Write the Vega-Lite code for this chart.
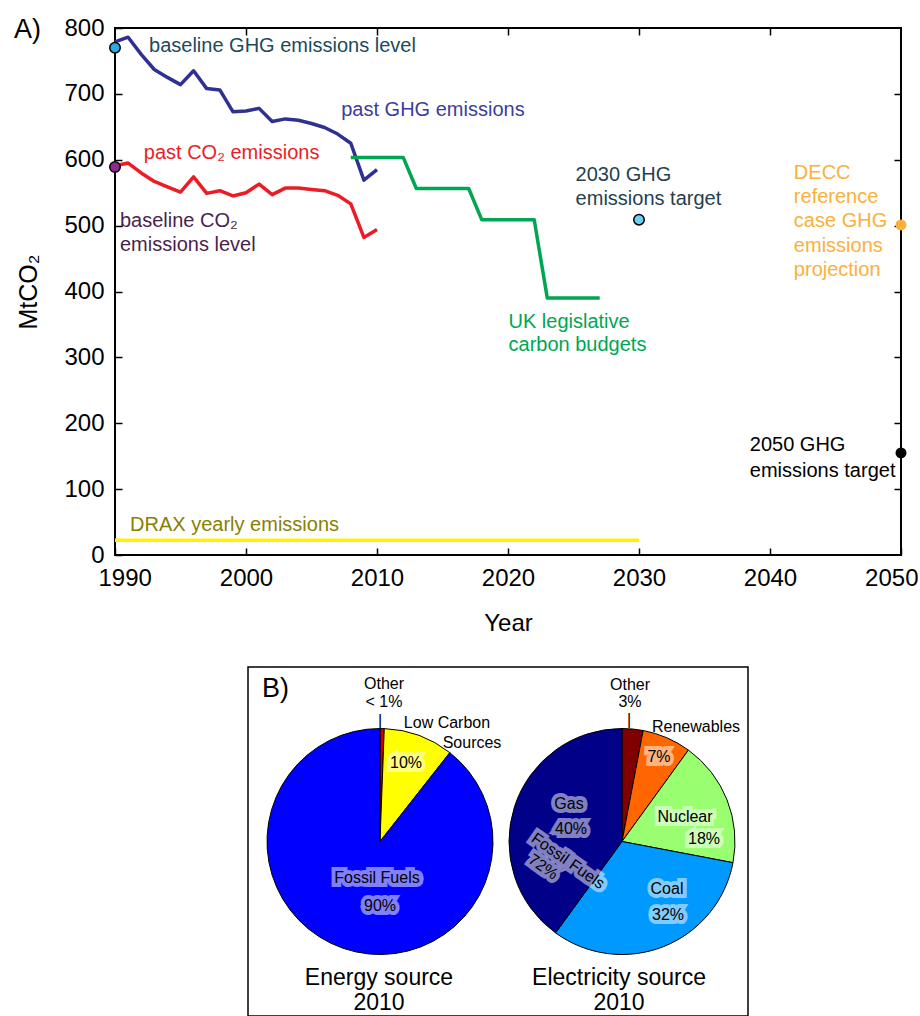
{
  "$schema": "https://vega.github.io/schema/vega-lite/v6.json",
  "padding": {"left": 13, "top": 15, "right": 0, "bottom": 0},
  "config": {"font": "Liberation Sans", "view": {"stroke": null}},
  "datasets": {
    "lines": [
      {"series": "past GHG emissions", "year": 1990, "value": 779},
      {"series": "past GHG emissions", "year": 1991, "value": 786},
      {"series": "past GHG emissions", "year": 1992, "value": 760},
      {"series": "past GHG emissions", "year": 1993, "value": 737},
      {"series": "past GHG emissions", "year": 1994, "value": 725},
      {"series": "past GHG emissions", "year": 1995, "value": 714},
      {"series": "past GHG emissions", "year": 1996, "value": 735},
      {"series": "past GHG emissions", "year": 1997, "value": 708},
      {"series": "past GHG emissions", "year": 1998, "value": 706},
      {"series": "past GHG emissions", "year": 1999, "value": 673},
      {"series": "past GHG emissions", "year": 2000, "value": 674},
      {"series": "past GHG emissions", "year": 2001, "value": 678},
      {"series": "past GHG emissions", "year": 2002, "value": 658},
      {"series": "past GHG emissions", "year": 2003, "value": 662},
      {"series": "past GHG emissions", "year": 2004, "value": 660},
      {"series": "past GHG emissions", "year": 2005, "value": 655},
      {"series": "past GHG emissions", "year": 2006, "value": 649},
      {"series": "past GHG emissions", "year": 2007, "value": 639},
      {"series": "past GHG emissions", "year": 2008, "value": 625},
      {"series": "past GHG emissions", "year": 2009, "value": 569},
      {"series": "past GHG emissions", "year": 2010, "value": 585},
      {"series": "past CO₂ emissions", "year": 1990, "value": 591},
      {"series": "past CO₂ emissions", "year": 1991, "value": 595},
      {"series": "past CO₂ emissions", "year": 1992, "value": 580},
      {"series": "past CO₂ emissions", "year": 1993, "value": 567},
      {"series": "past CO₂ emissions", "year": 1994, "value": 559},
      {"series": "past CO₂ emissions", "year": 1995, "value": 551},
      {"series": "past CO₂ emissions", "year": 1996, "value": 574},
      {"series": "past CO₂ emissions", "year": 1997, "value": 549},
      {"series": "past CO₂ emissions", "year": 1998, "value": 553},
      {"series": "past CO₂ emissions", "year": 1999, "value": 545},
      {"series": "past CO₂ emissions", "year": 2000, "value": 550},
      {"series": "past CO₂ emissions", "year": 2001, "value": 563},
      {"series": "past CO₂ emissions", "year": 2002, "value": 547},
      {"series": "past CO₂ emissions", "year": 2003, "value": 557},
      {"series": "past CO₂ emissions", "year": 2004, "value": 557},
      {"series": "past CO₂ emissions", "year": 2005, "value": 555},
      {"series": "past CO₂ emissions", "year": 2006, "value": 553},
      {"series": "past CO₂ emissions", "year": 2007, "value": 546},
      {"series": "past CO₂ emissions", "year": 2008, "value": 533},
      {"series": "past CO₂ emissions", "year": 2009, "value": 482},
      {"series": "past CO₂ emissions", "year": 2010, "value": 494},
      {"series": "UK legislative carbon budgets", "year": 2008, "value": 603.6},
      {"series": "UK legislative carbon budgets", "year": 2012, "value": 603.6},
      {"series": "UK legislative carbon budgets", "year": 2013, "value": 556.4},
      {"series": "UK legislative carbon budgets", "year": 2017, "value": 556.4},
      {"series": "UK legislative carbon budgets", "year": 2018, "value": 508.8},
      {"series": "UK legislative carbon budgets", "year": 2022, "value": 508.8},
      {"series": "UK legislative carbon budgets", "year": 2023, "value": 390},
      {"series": "UK legislative carbon budgets", "year": 2027, "value": 390},
      {"series": "DRAX yearly emissions", "year": 1990, "value": 22.5},
      {"series": "DRAX yearly emissions", "year": 2030, "value": 22.5}
    ],
    "dots": [
      {"series": "baseline GHG emissions level", "year": 1990, "value": 770},
      {"series": "baseline CO₂ emissions level", "year": 1990, "value": 589},
      {"series": "2030 GHG emissions target", "year": 2030, "value": 509},
      {"series": "DECC reference case GHG emissions projection", "year": 2050, "value": 501},
      {"series": "2050 GHG emissions target", "year": 2050, "value": 155}
    ],
    "notes": [
      {"series": "baseline GHG emissions level", "text": "baseline GHG emissions level", "year": 1992.6, "value": 773},
      {"series": "past GHG emissions", "text": "past GHG emissions", "year": 2007.27, "value": 676},
      {"series": "past CO₂ emissions", "text": "past CO₂ emissions", "year": 1992.2, "value": 610},
      {"series": "baseline CO₂ emissions level", "text": "baseline CO₂", "year": 1990.38, "value": 507},
      {"series": "baseline CO₂ emissions level", "text": "emissions level", "year": 1990.38, "value": 471},
      {"series": "2030 GHG emissions target", "text": "2030 GHG", "year": 2025.16, "value": 577},
      {"series": "2030 GHG emissions target", "text": "emissions target", "year": 2025.16, "value": 541},
      {"series": "DECC reference case GHG emissions projection", "text": "DECC", "year": 2041.82, "value": 580},
      {"series": "DECC reference case GHG emissions projection", "text": "reference", "year": 2041.82, "value": 544},
      {"series": "DECC reference case GHG emissions projection", "text": "case GHG", "year": 2041.82, "value": 507},
      {"series": "DECC reference case GHG emissions projection", "text": "emissions", "year": 2041.82, "value": 469},
      {"series": "DECC reference case GHG emissions projection", "text": "projection", "year": 2041.82, "value": 433},
      {"series": "2050 GHG emissions target", "text": "2050 GHG", "year": 2038.46, "value": 167},
      {"series": "2050 GHG emissions target", "text": "emissions target", "year": 2038.46, "value": 127},
      {"series": "UK legislative carbon budgets", "text": "UK legislative", "year": 2020.04, "value": 354},
      {"series": "UK legislative carbon budgets", "text": "carbon budgets", "year": 2020.04, "value": 319},
      {"series": "DRAX yearly emissions", "text": "DRAX yearly emissions", "year": 1991.15, "value": 45}
    ],
    "pies": [
      {"chart": "Energy", "source": "Other", "ord": 1, "pct": 0.6},
      {"chart": "Energy", "source": "Low Carbon Sources", "ord": 2, "pct": 10},
      {"chart": "Energy", "source": "Fossil Fuels", "ord": 3, "pct": 89.4},
      {"chart": "Electricity", "source": "Other", "ord": 1, "pct": 3},
      {"chart": "Electricity", "source": "Renewables", "ord": 2, "pct": 7},
      {"chart": "Electricity", "source": "Nuclear", "ord": 3, "pct": 18},
      {"chart": "Electricity", "source": "Coal", "ord": 4, "pct": 32},
      {"chart": "Electricity", "source": "Gas", "ord": 5, "pct": 40}
    ]
  },
  "spacing": 30,
  "vconcat": [
    {
      "width": 786,
      "height": 527,
      "view": {"stroke": "#000000", "strokeWidth": 2},
      "resolve": {"scale": {"color": "independent"}, "axis": {"x": "independent", "y": "independent"}},
      "layer": [
        {
          "data": {"name": "lines"},
          "mark": {"type": "line", "strokeWidth": 3.5, "strokeJoin": "round"},
          "encoding": {
            "x": {"field": "year", "type": "quantitative", "scale": {"domain": [1990, 2050], "nice": false, "zero": false},
              "axis": {"orient": "bottom", "values": [1990, 2000, 2010, 2020, 2030, 2040, 2050], "format": "d", "domain": false, "grid": false,
                "tickSize": -7, "tickWidth": 1.5, "tickColor": "#000000", "labelFontSize": 24, "labelColor": "#000000", "labelPadding": 18,
                "labelFlush": true, "labelFlushOffset": 17, "labelOverlap": false, "title": "Year", "titleFontSize": 24, "titleFontWeight": "normal", "titleColor": "#000000", "titlePadding": 21}},
            "y": {"field": "value", "type": "quantitative", "scale": {"domain": [0, 800], "nice": false},
              "axis": {"orient": "left", "values": [0, 100, 200, 300, 400, 500, 600, 700, 800], "domain": false, "grid": false,
                "tickSize": -7, "tickWidth": 1.5, "tickColor": "#000000", "labelFontSize": 24, "labelColor": "#000000", "labelPadding": 18,
                "labelFlush": false, "labelOverlap": false, "title": "MtCO₂", "titleFontSize": 25, "titleFontWeight": "normal", "titleColor": "#000000", "titlePadding": 22}},
            "color": {"field": "series", "type": "nominal", "legend": null,
              "scale": {"domain": ["past GHG emissions", "past CO₂ emissions", "UK legislative carbon budgets", "DRAX yearly emissions"],
                "range": ["#2E3192", "#ED1C24", "#00A651", "#FFF200"]}}
          }
        },
        {
          "data": {"name": "dots"},
          "transform": [{"filter": "datum.year < 2040"}],
          "mark": {"type": "point", "filled": true, "size": 110, "stroke": "#000000", "strokeWidth": 1.5, "opacity": 1},
          "encoding": {
            "x": {"field": "year", "type": "quantitative",
              "axis": {"orient": "top", "values": [2000, 2010, 2020, 2030, 2040], "labels": false, "domain": false, "grid": false,
                "tickSize": -7, "tickWidth": 1.5, "tickColor": "#000000", "title": null}},
            "y": {"field": "value", "type": "quantitative",
              "axis": {"orient": "right", "values": [100, 200, 300, 400, 500, 600, 700], "labels": false, "domain": false, "grid": false,
                "tickSize": -7, "tickWidth": 1.5, "tickColor": "#000000", "title": null}},
            "fill": {"field": "series", "type": "nominal", "legend": null,
              "scale": {"domain": ["baseline GHG emissions level", "baseline CO₂ emissions level", "2030 GHG emissions target"],
                "range": ["#29ABE2", "#92278F", "#6DCFF6"]}}
          }
        },
        {
          "data": {"name": "dots"},
          "transform": [{"filter": "datum.year > 2040"}],
          "mark": {"type": "point", "filled": true, "size": 120, "opacity": 1},
          "encoding": {
            "x": {"field": "year", "type": "quantitative", "axis": null},
            "y": {"field": "value", "type": "quantitative", "axis": null},
            "color": {"field": "series", "type": "nominal", "legend": null,
              "scale": {"domain": ["DECC reference case GHG emissions projection", "2050 GHG emissions target"],
                "range": ["#FBB03B", "#000000"]}}
          }
        },
        {
          "data": {"name": "notes"},
          "mark": {"type": "text", "align": "left", "baseline": "middle", "fontSize": 20},
          "encoding": {
            "x": {"field": "year", "type": "quantitative", "axis": null},
            "y": {"field": "value", "type": "quantitative", "axis": null},
            "text": {"field": "text"},
            "color": {"field": "series", "type": "nominal", "legend": null,
              "scale": {"domain": ["past GHG emissions", "past CO₂ emissions", "UK legislative carbon budgets", "DRAX yearly emissions",
                "baseline GHG emissions level", "baseline CO₂ emissions level", "2030 GHG emissions target",
                "DECC reference case GHG emissions projection", "2050 GHG emissions target"],
                "range": ["#3C3C9E", "#ED1C24", "#00A651", "#8A8000", "#1B4B5C", "#4B1F4B", "#253F4F", "#FBB03B", "#000000"]}}
          }
        },
        {
          "data": {"values": [{}]},
          "mark": {"type": "text", "align": "left", "baseline": "middle", "fontSize": 27, "dx": -101, "dy": 2, "color": "#000000"},
          "encoding": {
            "x": {"datum": 1990, "type": "quantitative", "axis": null},
            "y": {"datum": 800, "type": "quantitative", "axis": null},
            "text": {"value": "A)"}
          }
        }
      ]
    },
    {
      "spacing": 0,
      "hconcat": [
        {
          "width": 132,
          "height": 10,
          "data": {"values": [{}]},
          "mark": {"type": "point", "opacity": 0},
          "encoding": {}
        },
        {
          "width": 500,
          "height": 349,
          "view": {"stroke": "#000000", "strokeWidth": 1.5},
          "encoding": {
            "x": {"field": "chart", "type": "nominal", "axis": null,
              "scale": {"type": "point", "domain": ["Energy", "Electricity"], "range": [132, 374], "padding": 0}}
          },
          "layer": [
            {
              "data": {"name": "pies"},
              "transform": [
                {"stack": "pct", "groupby": ["chart"], "sort": [{"field": "ord", "order": "ascending"}], "as": ["p0", "p1"]},
                {"calculate": "datum.chart + ' ' + datum.source", "as": "key"}
              ],
              "mark": {"type": "arc", "outerRadius": 113, "stroke": "#000000", "strokeWidth": 1},
              "encoding": {
                "theta": {"field": "p0", "type": "quantitative", "scale": {"domain": [0, 100], "zero": true}},
                "theta2": {"field": "p1"},
                "color": {"field": "key", "type": "nominal", "legend": null,
                  "scale": {"domain": ["Energy Other", "Energy Low Carbon Sources", "Energy Fossil Fuels",
                    "Electricity Other", "Electricity Renewables", "Electricity Nuclear", "Electricity Coal", "Electricity Gas"],
                    "range": ["#CC0000", "#FFFF00", "#0000FF", "#800000", "#FF6600", "#99FF70", "#0099FF", "#000088"]}}
              }
            },
            {
              "data": {"values": [{}]},
              "layer": [
                {"mark": {"type": "text", "fontSize": 16, "dx": 26, "dy": -79, "fill": "#ffffff", "stroke": "#ffffff", "strokeWidth": 8, "opacity": 0.5}, "encoding": {"x": {"datum": "Energy"}, "text": {"value": "10%"}}},
                {"mark": {"type": "text", "fontSize": 16, "dx": -3, "dy": 36, "fill": "#ffffff", "stroke": "#ffffff", "strokeWidth": 8, "opacity": 0.5}, "encoding": {"x": {"datum": "Energy"}, "text": {"value": "Fossil Fuels"}}},
                {"mark": {"type": "text", "fontSize": 16, "dx": 0, "dy": 64, "fill": "#ffffff", "stroke": "#ffffff", "strokeWidth": 8, "opacity": 0.5}, "encoding": {"x": {"datum": "Energy"}, "text": {"value": "90%"}}},
                {"mark": {"type": "text", "fontSize": 16, "dx": 37, "dy": -85, "fill": "#ffffff", "stroke": "#ffffff", "strokeWidth": 8, "opacity": 0.5}, "encoding": {"x": {"datum": "Electricity"}, "text": {"value": "7%"}}},
                {"mark": {"type": "text", "fontSize": 16, "dx": -53, "dy": -38, "fill": "#ffffff", "stroke": "#ffffff", "strokeWidth": 8, "opacity": 0.5}, "encoding": {"x": {"datum": "Electricity"}, "text": {"value": "Gas"}}},
                {"mark": {"type": "text", "fontSize": 16, "dx": -51, "dy": -13, "fill": "#ffffff", "stroke": "#ffffff", "strokeWidth": 8, "opacity": 0.5}, "encoding": {"x": {"datum": "Electricity"}, "text": {"value": "40%"}}},
                {"mark": {"type": "text", "fontSize": 16, "dx": 63, "dy": -25, "fill": "#ffffff", "stroke": "#ffffff", "strokeWidth": 8, "opacity": 0.5}, "encoding": {"x": {"datum": "Electricity"}, "text": {"value": "Nuclear"}}},
                {"mark": {"type": "text", "fontSize": 16, "dx": 82, "dy": -3, "fill": "#ffffff", "stroke": "#ffffff", "strokeWidth": 8, "opacity": 0.5}, "encoding": {"x": {"datum": "Electricity"}, "text": {"value": "18%"}}},
                {"mark": {"type": "text", "fontSize": 16, "dx": 45, "dy": 47, "fill": "#ffffff", "stroke": "#ffffff", "strokeWidth": 8, "opacity": 0.5}, "encoding": {"x": {"datum": "Electricity"}, "text": {"value": "Coal"}}},
                {"mark": {"type": "text", "fontSize": 16, "dx": 46, "dy": 73, "fill": "#ffffff", "stroke": "#ffffff", "strokeWidth": 8, "opacity": 0.5}, "encoding": {"x": {"datum": "Electricity"}, "text": {"value": "32%"}}},
                {"mark": {"type": "text", "fontSize": 16, "dx": -33, "dy": 47, "angle": 35, "fill": "#ffffff", "stroke": "#ffffff", "strokeWidth": 8, "opacity": 0.5}, "encoding": {"x": {"datum": "Electricity"}, "text": {"value": "Fossil Fuels"}}},
                {"mark": {"type": "text", "fontSize": 16, "dx": -50, "dy": 66, "angle": 35, "fill": "#ffffff", "stroke": "#ffffff", "strokeWidth": 8, "opacity": 0.5}, "encoding": {"x": {"datum": "Electricity"}, "text": {"value": "72%"}}},
                {"mark": {"type": "text", "fontSize": 27, "align": "left", "dx": -118, "dy": -153, "color": "#000000"}, "encoding": {"x": {"datum": "Energy"}, "text": {"value": "B)"}}},
                {"mark": {"type": "text", "fontSize": 16, "dx": 4, "dy": -158, "color": "#000000"}, "encoding": {"x": {"datum": "Energy"}, "text": {"value": "Other"}}},
                {"mark": {"type": "text", "fontSize": 16, "dx": 4, "dy": -140, "color": "#000000"}, "encoding": {"x": {"datum": "Energy"}, "text": {"value": "< 1%"}}},
                {"mark": {"type": "text", "fontSize": 16, "dx": 0, "dy": -121, "color": "#000000", "fontWeight": 300}, "encoding": {"x": {"datum": "Energy"}, "text": {"value": "|"}}},
                {"mark": {"type": "text", "fontSize": 16, "dx": 67, "dy": -119, "color": "#000000"}, "encoding": {"x": {"datum": "Energy"}, "text": {"value": "Low Carbon"}}},
                {"mark": {"type": "text", "fontSize": 16, "dx": 92, "dy": -99, "color": "#000000"}, "encoding": {"x": {"datum": "Energy"}, "text": {"value": "Sources"}}},
                {"mark": {"type": "text", "fontSize": 16, "dx": 26, "dy": -79, "color": "#000000"}, "encoding": {"x": {"datum": "Energy"}, "text": {"value": "10%"}}},
                {"mark": {"type": "text", "fontSize": 16, "dx": -3, "dy": 36, "color": "#000000"}, "encoding": {"x": {"datum": "Energy"}, "text": {"value": "Fossil Fuels"}}},
                {"mark": {"type": "text", "fontSize": 16, "dx": 0, "dy": 64, "color": "#000000"}, "encoding": {"x": {"datum": "Energy"}, "text": {"value": "90%"}}},
                {"mark": {"type": "text", "fontSize": 23, "dx": -1, "dy": 136, "color": "#000000"}, "encoding": {"x": {"datum": "Energy"}, "text": {"value": "Energy source"}}},
                {"mark": {"type": "text", "fontSize": 23, "dx": -1, "dy": 161, "color": "#000000"}, "encoding": {"x": {"datum": "Energy"}, "text": {"value": "2010"}}},
                {"mark": {"type": "text", "fontSize": 16, "dx": 8, "dy": -157, "color": "#000000"}, "encoding": {"x": {"datum": "Electricity"}, "text": {"value": "Other"}}},
                {"mark": {"type": "text", "fontSize": 16, "dx": 8, "dy": -140, "color": "#000000"}, "encoding": {"x": {"datum": "Electricity"}, "text": {"value": "3%"}}},
                {"mark": {"type": "text", "fontSize": 16, "dx": 7, "dy": -122, "color": "#000000", "fontWeight": 300}, "encoding": {"x": {"datum": "Electricity"}, "text": {"value": "|"}}},
                {"mark": {"type": "text", "fontSize": 16, "dx": 74, "dy": -115, "color": "#000000"}, "encoding": {"x": {"datum": "Electricity"}, "text": {"value": "Renewables"}}},
                {"mark": {"type": "text", "fontSize": 16, "dx": 37, "dy": -85, "color": "#000000"}, "encoding": {"x": {"datum": "Electricity"}, "text": {"value": "7%"}}},
                {"mark": {"type": "text", "fontSize": 16, "dx": -53, "dy": -38, "color": "#000000"}, "encoding": {"x": {"datum": "Electricity"}, "text": {"value": "Gas"}}},
                {"mark": {"type": "text", "fontSize": 16, "dx": -51, "dy": -13, "color": "#000000"}, "encoding": {"x": {"datum": "Electricity"}, "text": {"value": "40%"}}},
                {"mark": {"type": "text", "fontSize": 16, "dx": 63, "dy": -25, "color": "#000000"}, "encoding": {"x": {"datum": "Electricity"}, "text": {"value": "Nuclear"}}},
                {"mark": {"type": "text", "fontSize": 16, "dx": 82, "dy": -3, "color": "#000000"}, "encoding": {"x": {"datum": "Electricity"}, "text": {"value": "18%"}}},
                {"mark": {"type": "text", "fontSize": 16, "dx": 45, "dy": 47, "color": "#000000"}, "encoding": {"x": {"datum": "Electricity"}, "text": {"value": "Coal"}}},
                {"mark": {"type": "text", "fontSize": 16, "dx": 46, "dy": 73, "color": "#000000"}, "encoding": {"x": {"datum": "Electricity"}, "text": {"value": "32%"}}},
                {"mark": {"type": "text", "fontSize": 16, "dx": -33, "dy": 47, "angle": 35, "color": "#000000"}, "encoding": {"x": {"datum": "Electricity"}, "text": {"value": "Fossil Fuels"}}},
                {"mark": {"type": "text", "fontSize": 16, "dx": -50, "dy": 66, "angle": 35, "color": "#000000"}, "encoding": {"x": {"datum": "Electricity"}, "text": {"value": "72%"}}},
                {"mark": {"type": "text", "fontSize": 23, "dx": -3, "dy": 136, "color": "#000000"}, "encoding": {"x": {"datum": "Electricity"}, "text": {"value": "Electricity source"}}},
                {"mark": {"type": "text", "fontSize": 23, "dx": -3, "dy": 161, "color": "#000000"}, "encoding": {"x": {"datum": "Electricity"}, "text": {"value": "2010"}}}
              ]
            }
          ]
        }
      ]
    }
  ]
}
